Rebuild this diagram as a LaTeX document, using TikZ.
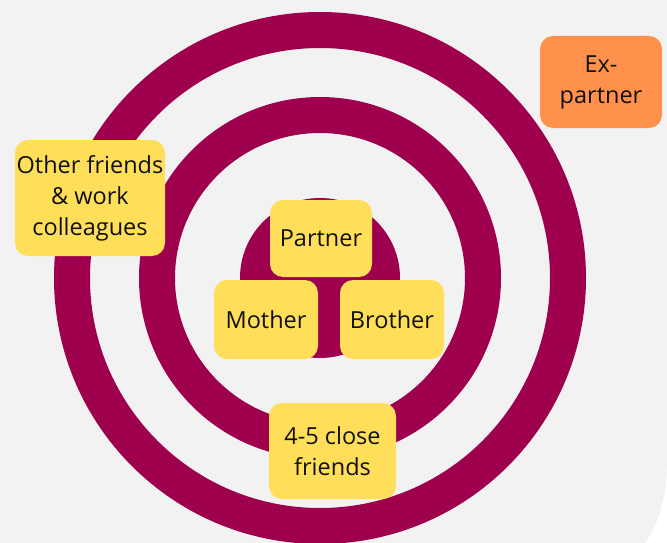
\documentclass[tikz,border=0pt]{standalone}
\usepackage{fontspec}
\setmainfont{Open Sans}
\definecolor{bg}{HTML}{F2F2F2}
\definecolor{maroon}{HTML}{9E004E}
\definecolor{sticky}{HTML}{FFDE59}
\definecolor{exorange}{HTML}{FF914D}
\definecolor{ink}{HTML}{111111}
\tikzset{
  ring/.style={draw=maroon, line width=36pt},
  note/.style={fill=sticky, rounded corners=13pt, inner sep=0pt, align=center,
    text=ink, font=\fontsize{23.5}{31}\selectfont},
  exnote/.style={note, fill=exorange}
}
\begin{document}
\begin{tikzpicture}[x=1pt,y=-1pt]
\useasboundingbox (0,0) rectangle (667,543);
\fill[white] (0,0) rectangle (667,543);
\fill[bg] (0,0) -- (667,0) -- (667,455) .. controls (667,495) and (661,520) .. (645,543) -- (0,543) -- cycle;
\begin{scope}
\clip (0,0) rectangle (667,543);
\draw[ring] (320,278) circle[radius=248pt];
\draw[ring] (320,278) circle[radius=163pt];
\fill[maroon] (320,278) circle[radius=80pt];
\end{scope}
\node[note, minimum width=102pt, minimum height=77pt] (partner) at (321,238.5) {Partner};
\node[note, minimum width=104pt, minimum height=79pt] (mother) at (266,319.5) {Mother};
\node[note, minimum width=104pt, minimum height=79pt] (brother) at (392,319.5) {Brother};
\node[note, minimum width=150pt, minimum height=116pt] (others) at (90,198) {Other friends\\\& work\\colleagues};
\node[note, minimum width=127pt, minimum height=96pt] (close) at (332.5,451) {4-5 close\\friends};
\node[exnote, minimum width=122pt, minimum height=92pt] (ex) at (601,82) {Ex-\\partner};
\end{tikzpicture}
\end{document}
